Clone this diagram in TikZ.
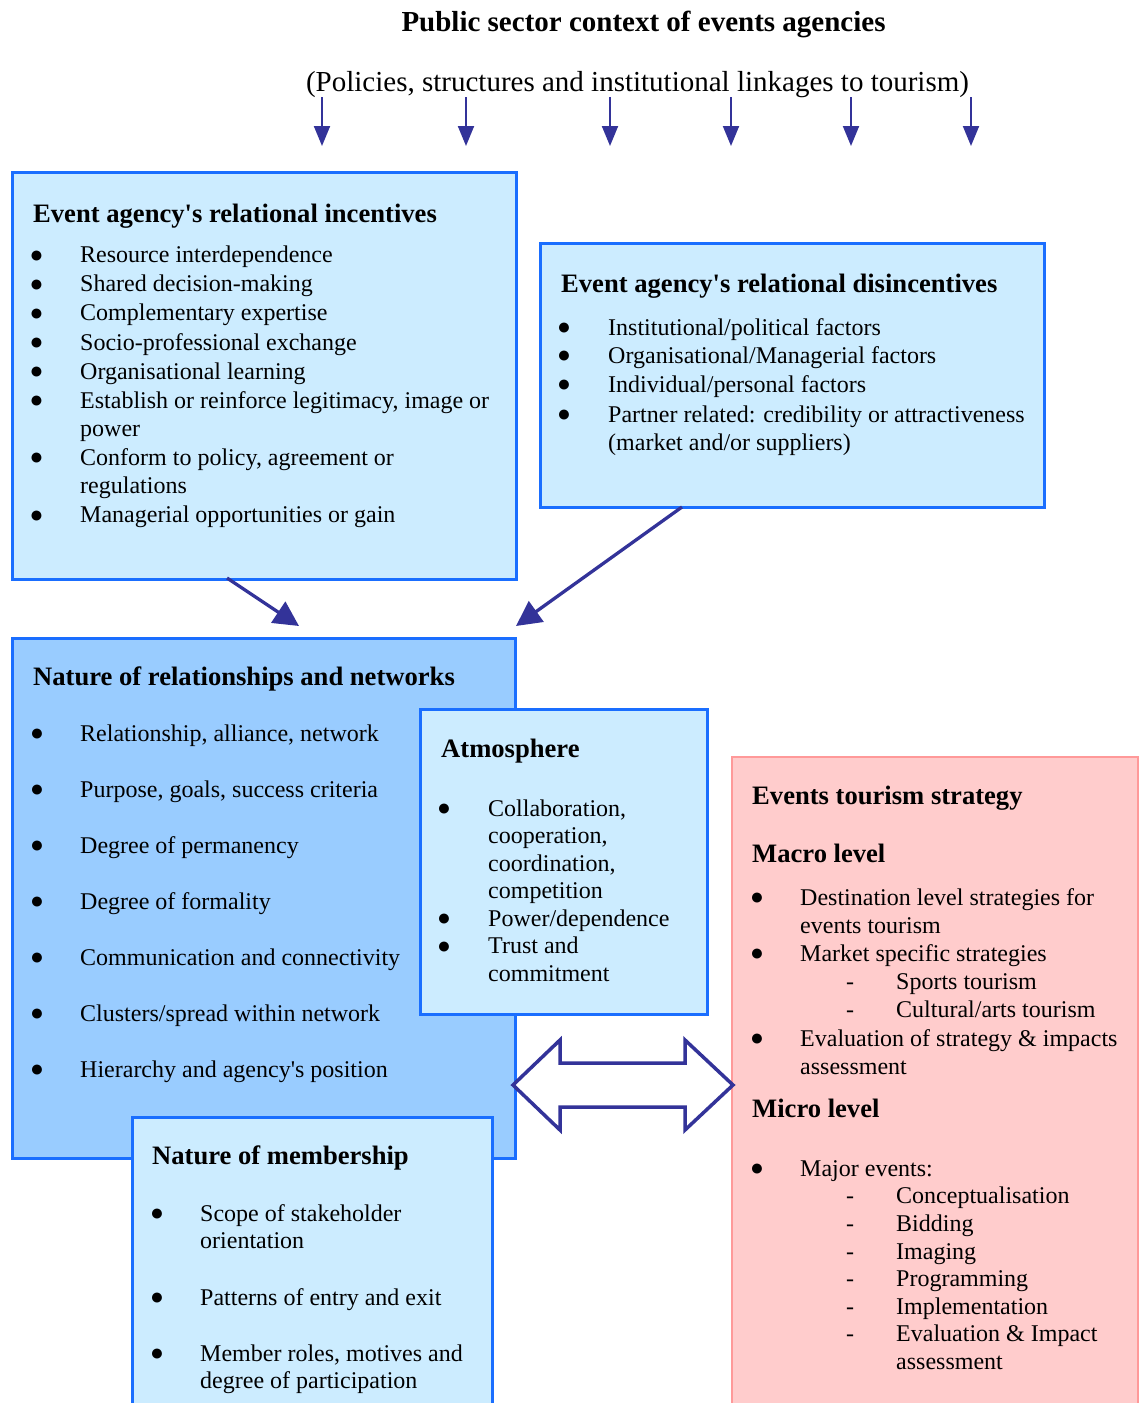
\documentclass[tikz,border=0pt]{standalone}
\usepackage{fontspec}
\setmainfont{Liberation Serif}
\usetikzlibrary{arrows.meta}
\definecolor{lblue}{HTML}{CCECFF}
\definecolor{mblue}{HTML}{99CCFF}
\definecolor{bblue}{HTML}{1A6EFF}
\definecolor{pfill}{HTML}{FFCCCC}
\definecolor{pborder}{HTML}{FF9999}
\definecolor{ablue}{HTML}{333399}
\begin{document}
\begin{tikzpicture}[x=1pt,y=-1pt,
  box/.style={draw=bblue, line width=2.5pt, fill=lblue, inner sep=0pt, anchor=north west, rectangle},
  body/.style={font=\fontsize{24}{28}\selectfont, anchor=base west, inner sep=0pt},
  hd/.style={font=\fontsize{26.6}{30}\selectfont\bfseries, anchor=base west, inner sep=0pt},
  bul/.style={font=\fontsize{23}{23}\selectfont, anchor=base west, inner sep=0pt},
  ttl/.style={font=\fontsize{29}{34}\selectfont, anchor=base, inner sep=0pt},
  toparrow/.style={draw=ablue, line width=2pt, -{Triangle[length=20pt,width=16pt]}},
  bigarrow/.style={draw=ablue, line width=3.3pt, -{Triangle[length=25pt,width=25pt]}},
  dblarrow/.style={draw=ablue, line width=3.5pt, fill=white, line join=miter}
]
\useasboundingbox (0,0) rectangle (1138,1403);

% titles
\node[ttl, font=\fontsize{29}{34}\selectfont\bfseries] (title) at (643.5,31) {Public sector context of events agencies};
\node[ttl] (subtitle) at (637.5,91) {(Policies, structures and institutional linkages to tourism)};

% top arrows
\foreach \xx [count=\i] in {322,466,610,731,851,971} {
  \coordinate (ts\i) at (\xx,97);
  \coordinate (te\i) at (\xx,146);
  \draw[toparrow] (ts\i) -- (te\i);
}

% boxes
\node[box, minimum width=504pt, minimum height=407pt] (inc) at (11,171) {};
\node[box, minimum width=504pt, minimum height=264pt] (dis) at (539,242) {};
\node[box, fill=mblue, minimum width=503pt, minimum height=520pt] (rel) at (11,637) {};
\node[box, minimum width=287pt, minimum height=305pt] (atm) at (419,708) {};
\node[box, draw=pborder, fill=pfill, line width=2pt, minimum width=406pt, minimum height=700pt] (ets) at (731,756) {};
\node[box, minimum width=360pt, minimum height=320pt] (mem) at (131,1116) {};

% connectors box -> box
\coordinate (a1s) at (227,578);
\coordinate (a1e) at (299,626);
\coordinate (a2s) at (682,507);
\coordinate (a2e) at (516,626);
\draw[bigarrow] (a1s) -- (a1e);
\draw[bigarrow] (a2s) -- (a2e);

% double arrow
\draw[dblarrow] (513,1085) -- (560,1040) -- (560,1063) -- (685,1063) -- (685,1040) -- (733,1085)
  -- (685,1130) -- (685,1107) -- (560,1107) -- (560,1130) -- cycle;

% ---- incentives
\node[hd] (inc-h) at (33,222) {Event agency\textquotesingle s relational incentives};
\foreach \yy [count=\i] in {262.7,291.7,320.7,350,379.3,408.3,465,522.7}
  \node[bul] (inc-b\i) at (29.5,\yy) {\raisebox{0.4pt}{●}};
\foreach \yy/\txt [count=\i] in {262.7/Resource interdependence, 291.7/Shared decision-making,
  320.7/Complementary expertise, 350/Socio-professional exchange, 379.3/Organisational learning,
  {408.3/{Establish or reinforce legitimacy, image or}}, 436.7/power,
  {465/{Conform to policy, agreement or}}, 493.3/regulations, 522.7/Managerial opportunities or gain}
  \node[body] (inc-t\i) at (80,\yy) {\txt};

% ---- disincentives
\node[hd] (dis-h) at (561,292.3) {Event agency\textquotesingle s relational disincentives};
\foreach \yy [count=\i] in {335,363.3,392.3,422.3}
  \node[bul] (dis-b\i) at (556.8,\yy) {\raisebox{0.4pt}{●}};
\foreach \yy/\txt [count=\i] in {335/{Institutional/political factors}, 363.3/{Organisational/Managerial factors},
  392.3/{Individual/personal factors}, 422.3/{Partner related: credibility or attractiveness},
  450.7/{(market and/or suppliers)}}
  \node[body] (dis-t\i) at (608,\yy) {\txt};

% ---- relationships
\node[hd] (rel-h) at (33,685) {Nature of relationships and networks};
\foreach \yy/\txt [count=\i] in {{741/{Relationship, alliance, network}}, {797/{Purpose, goals, success criteria}},
  853/Degree of permanency, 909/Degree of formality, 965/Communication and connectivity,
  1021/{Clusters/spread within network}, 1077/{Hierarchy and agency\textquotesingle s position}} {
  \node[bul] (rel-b\i) at (29.8,\yy) {\raisebox{0.4pt}{●}};
  \node[body] (rel-t\i) at (80,\yy) {\txt};
}

% ---- atmosphere
\node[hd] (atm-h) at (441,757) {Atmosphere};
\foreach \yy [count=\i] in {816,926,953.5}
  \node[bul] (atm-b\i) at (436.8,\yy) {\raisebox{0.4pt}{●}};
\foreach \yy/\txt [count=\i] in {{816/{Collaboration,}}, {843.5/{cooperation,}}, {871/{coordination,}},
  898.5/competition, 926/{Power/dependence}, 953.5/Trust and, 981/commitment}
  \node[body] (atm-t\i) at (488,\yy) {\txt};

% ---- events tourism strategy
\node[hd] (ets-h) at (752,804.5) {Events tourism strategy};
\node[hd] (ets-macro) at (752,862) {Macro level};
\node[hd] (ets-micro) at (752,1117.3) {Micro level};
\foreach \yy [count=\i] in {905,961,1046,1176}
  \node[bul] (ets-b\i) at (749.8,\yy) {\raisebox{0.4pt}{●}};
\foreach \yy/\txt [count=\i] in {905/Destination level strategies for, 933/events tourism,
  961/Market specific strategies, 1046/{Evaluation of strategy \& impacts}, 1074/assessment,
  1176/Major events:}
  \node[body] (ets-t\i) at (800,\yy) {\txt};
\foreach \yy/\txt [count=\i] in {989/Sports tourism, 1017/{Cultural/arts tourism},
  1203.3/Conceptualisation, 1231/Bidding, 1259/Imaging, 1286.7/Programming,
  1314/Implementation, 1341.7/{Evaluation \& Impact}} {
  \node[body] (ets-d\i) at (846,\yy) {-};
  \node[body] (ets-s\i) at (896,\yy) {\txt};
}
\node[body] (ets-s9) at (896,1369.3) {assessment};

% ---- membership
\node[hd] (mem-h) at (152,1164) {Nature of membership};
\foreach \yy [count=\i] in {1221,1305,1361}
  \node[bul] (mem-b\i) at (149.8,\yy) {\raisebox{0.4pt}{●}};
\foreach \yy/\txt [count=\i] in {1221/Scope of stakeholder, 1248/orientation,
  1305/Patterns of entry and exit, {1361/{Member roles, motives and}}, 1388/degree of participation}
  \node[body] (mem-t\i) at (200,\yy) {\txt};
\end{tikzpicture}
\end{document}
